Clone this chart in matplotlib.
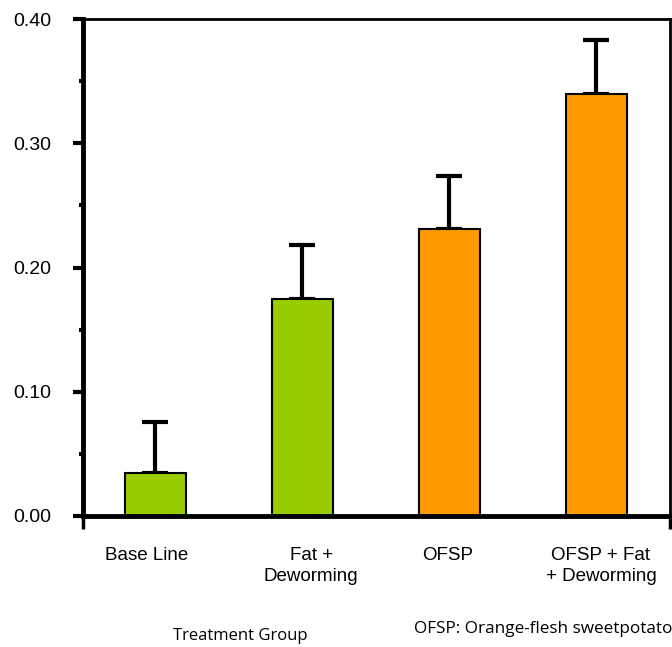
import matplotlib
matplotlib.use("Agg")
import matplotlib.pyplot as plt
from matplotlib.ticker import MultipleLocator, FixedLocator
from matplotlib.transforms import ScaledTranslation

categories = ["Base Line", "Fat +\nDeworming", "OFSP", "OFSP + Fat\n+ Deworming"]
values = [0.035, 0.175, 0.231, 0.340]
errors = [0.041, 0.043, 0.043, 0.043]
colors = ["#99CC00", "#99CC00", "#FF9900", "#FF9900"]
yticks = [0.0, 0.1, 0.2, 0.3, 0.4]
ytick_labels = ["0.00", "0.10", "0.20", "0.30", "0.40"]

# horizontal nudges of the category labels (pixels), as in the original layout
label_nudge_px = [-8.5, 9, -2, 4.5]

plt.rcParams['font.family'] = ['Liberation Sans', 'DejaVu Sans']

fig = plt.figure(figsize=(6.72, 6.47), dpi=100)
ax = fig.add_axes([83/672, 1-516/647, (670-83)/672, (516-19)/647])

x = list(range(len(categories)))
ax.bar(x, values, width=0.415, color=colors, edgecolor="black", linewidth=1.5, zorder=2)
ax.errorbar(x, values, yerr=[[0]*len(errors), errors], fmt="none", ecolor="black",
            elinewidth=3, capsize=9.5, capthick=3, zorder=1)

ax.set_xlim(-0.49, 3.5)
ax.set_ylim(0, 0.40)
ax.set_yticks(yticks)
ax.set_yticklabels(ytick_labels, fontsize=14)
ax.yaxis.set_minor_locator(MultipleLocator(0.05))
ax.tick_params(axis="y", which="major", direction="out", length=7, width=3, pad=16)
ax.tick_params(axis="y", which="minor", direction="out", length=3, width=3)

ax.set_xticks(x)
ax.set_xticklabels(categories, fontsize=13.5, linespacing=1.38)
ax.tick_params(axis="x", which="major", length=0, pad=22)
ax.xaxis.set_minor_locator(FixedLocator([-0.49, 3.5]))
ax.tick_params(axis="x", which="minor", direction="out", length=9, width=2.5)
for lab, dx in zip(ax.get_xticklabels(), label_nudge_px):
    lab.set_transform(lab.get_transform() + ScaledTranslation(dx/100, 0, fig.dpi_scale_trans))

for s in ["left", "bottom"]:
    ax.spines[s].set_linewidth(3.5)
ax.spines["top"].set_linewidth(2)
ax.spines["right"].set_linewidth(2)

fig.text(240/672, 1-636/647, "Treatment Group", ha="center", va="center",
         fontsize=12, family=["Open Sans", "DejaVu Sans"])
fig.text(1.0, 1-629/647, "OFSP: Orange-flesh sweetpotato", ha="right", va="center",
         fontsize=12.3, family=["Open Sans", "DejaVu Sans"])

fig.savefig("out.png", dpi=100)
